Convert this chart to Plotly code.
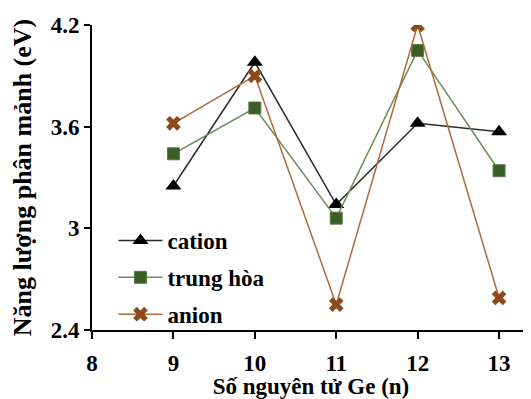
import plotly.graph_objects as go

n_atoms = [9, 10, 11, 12, 13]
cation = [3.25, 3.98, 3.14, 3.62, 3.57]
trung_hoa = [3.44, 3.71, 3.06, 4.05, 3.34]
anion = [3.62, 3.90, 2.55, 4.20, 2.59]

x_ticks = [8, 9, 10, 11, 12, 13]
y_ticks = [2.4, 3.0, 3.6, 4.2]
y_tick_text = ["2.4", "3", "3.6", "4.2"]

font_family = "Liberation Serif"
fs = 23

fig = go.Figure()
fig.add_trace(go.Scatter(x=n_atoms, y=cation, mode="lines+markers", name="<b>cation</b>",
                         legendgroup="a",
                         line=dict(color="#2b2b2b", width=1.5),
                         marker=dict(symbol="triangle-up", size=14, color="black")))
fig.add_trace(go.Scatter(x=n_atoms, y=trung_hoa, mode="lines+markers", name="<b>trung hòa</b>",
                         legendgroup="b",
                         line=dict(color="#6a8f58", width=1.5),
                         marker=dict(symbol="square", size=12, color="#3b5e27",
                                     line=dict(color="#5a7a48", width=1))))
fig.add_trace(go.Scatter(x=n_atoms, y=anion, mode="lines+markers", name="<b>anion</b>",
                         legendgroup="c",
                         line=dict(color="#b0693a", width=1.5),
                         marker=dict(symbol="x", size=13, color="#8e4a1c",
                                     line=dict(width=0))))

fig.update_layout(
    width=523, height=391,
    margin=dict(l=84, r=1, t=17, b=69),
    paper_bgcolor="white", plot_bgcolor="white",
    font=dict(family=font_family, size=fs, color="black"),
    showlegend=True,
    legend=dict(x=0.049, y=0.364, xanchor="left", yanchor="top",
                bgcolor="rgba(0,0,0,0)", traceorder="grouped", tracegroupgap=4,
                font=dict(family=font_family, size=fs, color="black"),
                itemwidth=44),
    xaxis=dict(range=[8, 13.38], tickvals=x_ticks, ticks="outside", ticklen=7, tickwidth=2,
               tickcolor="black", showline=True, linecolor="black", linewidth=2,
               showgrid=False, zeroline=False, ticklabelstandoff=4,
               tickfont=dict(family=font_family, size=fs, color="black", weight="bold"),
               title=dict(text="<b>Số nguyên tử Ge (n)</b>", standoff=0,
                          font=dict(family=font_family, size=fs))),
    yaxis=dict(range=[2.4, 4.2], tickvals=y_ticks, ticktext=y_tick_text, ticks="outside",
               ticklen=6, tickwidth=2, tickcolor="black", showline=True, linecolor="black",
               linewidth=2, showgrid=False, zeroline=False,
               tickfont=dict(family=font_family, size=fs, color="black", weight="bold"),
               title=dict(text="<b>Năng lượng phân mảnh (eV)</b>", standoff=14,
                          font=dict(family=font_family, size=26))),
)

fig.write_html("out.html")
